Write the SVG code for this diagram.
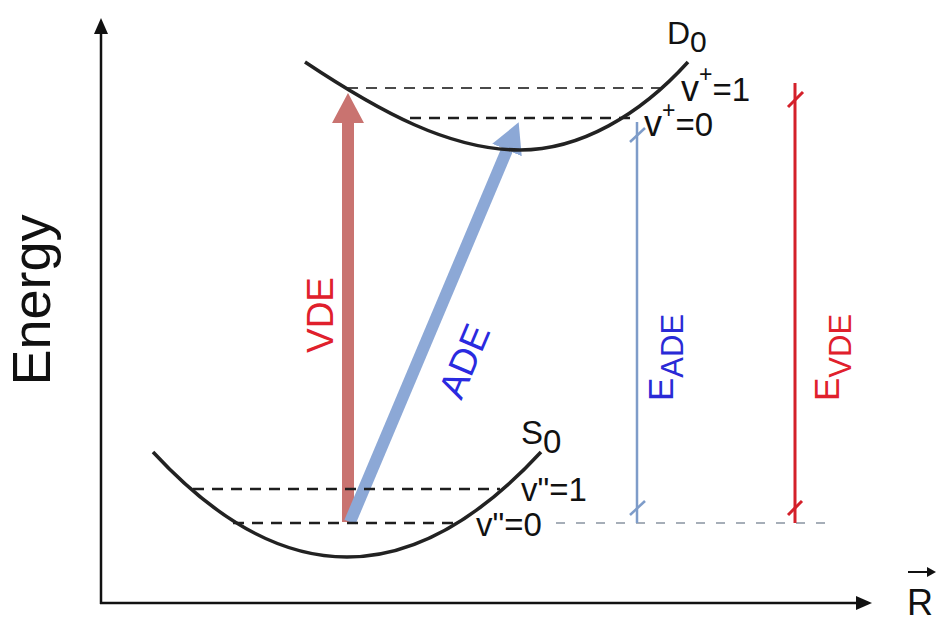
<svg xmlns="http://www.w3.org/2000/svg" width="940" height="622" viewBox="0 0 940 622">
<style>
text{font-family:"Liberation Sans",Arial,sans-serif}
.curve{fill:none;stroke:#222;stroke-width:3.5}
.lvl{stroke:#1e1e1e;stroke-width:2.6;stroke-dasharray:11 8}
.lvl1{stroke:#4a4a4a;stroke-width:2.2;stroke-dasharray:11 8}
.ref{stroke:#a6aeb8;stroke-width:2;stroke-dasharray:9 11}
.lab{font-size:33px;fill:#111}
.sup{font-size:23px}
</style>
<defs>
<marker id="ah" markerUnits="userSpaceOnUse" markerWidth="18" markerHeight="14" refX="0" refY="7" orient="auto"><path d="M0,0 L16,7 L0,14 z" fill="#111"/></marker>
<marker id="ahRed" markerUnits="userSpaceOnUse" markerWidth="32" markerHeight="32" refX="0" refY="16" orient="auto"><path d="M0,0 L30,16 L0,32 z" fill="#c97370"/></marker>
<marker id="ahBlue" markerUnits="userSpaceOnUse" markerWidth="32" markerHeight="32" refX="0" refY="16" orient="auto"><path d="M0,0 L30,16 L0,32 z" fill="#8ca8d6"/></marker>
<marker id="ahSmall" markerUnits="userSpaceOnUse" markerWidth="10" markerHeight="10" refX="0" refY="5" orient="auto"><path d="M0,0 L9,5 L0,10 z" fill="#111"/></marker>
</defs>

<g id="axes">
<line x1="101" y1="604" x2="101" y2="34" stroke="#111" stroke-width="2.5" marker-end="url(#ah)"/>
<line x1="100" y1="603" x2="856" y2="603" stroke="#111" stroke-width="2.5" marker-end="url(#ah)"/>
<text x="50" y="300" transform="rotate(-90 50 300)" text-anchor="middle" font-size="54" fill="#111">Energy</text>
<text x="907" y="615" font-size="36" fill="#111">R</text>
<line x1="908" y1="572" x2="927" y2="572" stroke="#111" stroke-width="2" marker-end="url(#ahSmall)"/>
</g>

<g id="connectors">
<line id="vde-arrow" x1="348" y1="522" x2="348" y2="123" stroke="#c97370" stroke-width="12" marker-end="url(#ahRed)"/>
<line id="ade-arrow" x1="350" y1="522" x2="507" y2="150" stroke="#8ca8d6" stroke-width="12" marker-end="url(#ahBlue)"/>
<text transform="translate(333 315) rotate(-90)" text-anchor="middle" font-size="37" fill="#e0202c">VDE</text>
<text transform="translate(476 366) rotate(-67)" text-anchor="middle" font-size="37" fill="#2a2ae0">ADE</text>
</g>

<g id="D0">
<line class="lvl1" x1="347" y1="88" x2="663" y2="88"/>
<line class="lvl" x1="410" y1="118" x2="633" y2="118"/>
<path class="curve" d="M305,62 C380,112 450,150 520,150 C580,150 640,115 688,62"/>
<text x="667" y="44" font-size="32" fill="#111">D<tspan dy="8" font-size="30">0</tspan></text>
<text x="681" y="101" class="lab"><tspan font-size="36">v</tspan><tspan class="sup" dy="-19">+</tspan><tspan dy="19">=1</tspan></text>
<text x="644" y="136" class="lab"><tspan font-size="36">v</tspan><tspan class="sup" dy="-18">+</tspan><tspan dy="18">=0</tspan></text>
</g>

<g id="S0">
<line class="lvl" x1="193" y1="489" x2="500" y2="489"/>
<line class="lvl" x1="233" y1="523" x2="453" y2="523"/>
<line class="ref" x1="556" y1="523" x2="832" y2="523"/>
<path class="curve" d="M153,452 Q347,662 541,452"/>
<text x="521" y="444" font-size="33" fill="#111">S<tspan dy="9">0</tspan></text>
<text x="521" y="501" class="lab" font-size="36">v"=1</text>
<text x="476" y="536" class="lab" font-size="36">v"=0</text>
</g>

<g id="E_ADE">
<line x1="637" y1="122" x2="637" y2="523" stroke="#7e9cc9" stroke-width="2.5"/>
<line x1="630" y1="142" x2="645" y2="128" stroke="#7e9cc9" stroke-width="2.5"/>
<line x1="630" y1="515" x2="645" y2="501" stroke="#7e9cc9" stroke-width="2.5"/>
<text transform="translate(673 401) rotate(-90)" font-size="35" fill="#2a2ad6">E<tspan dy="10" font-size="31">ADE</tspan></text>
</g>

<g id="E_VDE">
<line x1="795" y1="83" x2="795" y2="523" stroke="#d4202a" stroke-width="3"/>
<line x1="788" y1="107" x2="803" y2="92" stroke="#d4202a" stroke-width="3"/>
<line x1="788" y1="515" x2="802" y2="501" stroke="#d4202a" stroke-width="3"/>
<text transform="translate(839 401) rotate(-90)" font-size="35" fill="#e0202c">E<tspan dy="12" font-size="31">VDE</tspan></text>
</g>
</svg>
